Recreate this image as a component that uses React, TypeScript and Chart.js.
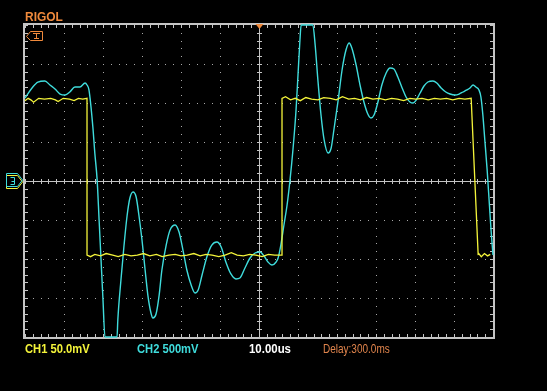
import React, { useEffect, useRef } from "react";
import { Chart, registerables } from "chart.js";

Chart.register(...registerables);

// Time axis: 10.00 us/div, 12 divisions, centre = 0 us
const timeMin = -60;
const timeMax = 60;

// CH1 (yellow), 50.0 mV/div
const ch1Time = [
  -60, -59.2, -58.5, -57.8, -56.5, -55, -53.4, -52.2, -51.5, -50.2, -48.6, -47.4, -46.3, -45.2, -44.1,
  -44.1, -43.2, -42.1, -40.6, -39.2, -37.5, -36.1, -34.4, -32.8, -31.2, -29.6, -28, -26.3, -24.8, -23.1,
  -21.5, -20, -18.4, -16.7, -15.1, -13.6, -12, -10.3, -8.7, -7.1, -5.6, -4, -2.4, -0.8, 0.8, 2.4, 4, 5.9,
  5.9, 6.8, 8.1, 9.3, 10.6, 12, 13.5, 15.1, 16.6, 18.3, 19.8, 21.4, 23, 24.5, 26, 27.6, 29.2, 30.8, 32.4,
  34, 35.5, 37.1, 38.7, 40.2, 41.8, 43.4, 45, 46.5, 48.1, 49.7, 51.3, 52.8, 54.4, 56.2,
  56.2, 57, 57.8, 58.6, 59.3, 60,
];
const ch1Volt = [
  103, 106, 104, 101, 106, 105, 106, 104, 102, 106, 105, 103, 106, 105, 106,
  -95, -97, -94, -96, -93, -95, -97, -94, -96, -95, -93, -96, -94, -97, -95,
  -94, -96, -95, -93, -96, -94, -95, -97, -95, -92, -95, -96, -94, -95, -97, -94, -95, -95,
  106, 108, 104, 106, 103, 107, 105, 104, 107, 106, 104, 108, 105, 106, 104, 107, 105, 106, 104,
  106, 105, 103, 106, 105, 106, 104, 106, 105, 106, 104, 106, 105, 106,
  -95, -92, -97, -93, -96, -94,
];

// CH2 (cyan), 500 mV/div (clipped at the screen edge, +-2000 mV)
const ch2Time = [
  -60, -58.2, -56.7, -54.9, -53.6, -52.3, -51, -49.7, -48.5, -47.2, -45.9, -44.6, -44.1, -43.6,
  -42.6, -42.1, -41.5, -41, -40.5, -40, -39.5, -36.4, -36.2, -35.4, -34.6, -33.8, -33.1, -32.3,
  -31.5, -30.8, -30, -29.2, -28.5, -27.7, -27.2, -26.4, -25.6, -24.9, -23.8, -22.8, -21.5, -20.5,
  -19.5, -18.5, -17.4, -16.4, -15.6, -14.6, -13.3, -12.1, -10.8, -9.7, -8.5, -7.2, -5.9, -4.9,
  -3.6, -2.3, -1, 0.3, 1.3, 2.3, 3.3, 4.4, 4.9, 5.6, 6.4, 7.2, 7.9, 8.7, 9.5, 10, 10.5, 10.8,
  13.8, 14.4, 15.1, 15.9, 16.7, 17.7, 18.5, 19.2, 20.3, 21.3, 22.3, 23.1, 23.8, 24.9, 25.9, 26.9,
  27.9, 28.7, 29.5, 30.5, 31.5, 32.6, 33.6, 34.6, 35.6, 36.7, 37.7, 38.7, 39.5, 40.3, 41.3, 42.3,
  43.3, 44.6, 45.6, 46.7, 47.9, 49, 50.3, 51.3, 52.3, 53.3, 54.1, 54.9, 55.6, 56.4, 56.9, 57.4,
  57.9, 58.5, 59, 59.5, 60,
];
const ch2Volt = [
  1064, 1192, 1269, 1282, 1231, 1179, 1115, 1103, 1141, 1205, 1205, 1256, 1231, 1167,
  692, 359, 13, -500, -1013, -1526, -2000, -2000, -1782, -1269, -821, -436, -218, -141,
  -205, -436, -756, -1141, -1462, -1692, -1756, -1705, -1462, -1141, -821, -628, -564, -654,
  -885, -1141, -1333, -1436, -1397, -1205, -962, -821, -782, -846, -1038, -1192, -1256, -1244,
  -1115, -987, -923, -910, -962, -1038, -1077, -1038, -987, -821, -564, -308, -13, 397, 910, 1359, 1808, 2000,
  2000, 1744, 1295, 846, 526, 359, 423, 654, 1038, 1423, 1679, 1769, 1705, 1487, 1231, 1013,
  859, 808, 846, 1013, 1231, 1385, 1449, 1436, 1333, 1192, 1077, 1013, 1000, 1038, 1128, 1218,
  1269, 1282, 1256, 1192, 1141, 1115, 1103, 1115, 1141, 1167, 1192, 1231, 1205, 1167, 1077, 846,
  526, 141, -244, -628, -949,
];

const ch1Label = "CH1 50.0mV";
const ch2Label = "CH2 500mV";
const timebaseLabel = "10.00us";
const delayLabel = "Delay:300.0ms";
const brandLabel = "RIGOL";

const YELLOW = "#f4f43a";
const CYAN = "#3fdcdc";
const ORANGE = "#f08a3c";
const GRID = "#a8a8a8";
const FRAME = "#c4c4c4";

const graticule = {
  id: "graticule",
  beforeDatasetsDraw(chart: any) {
    const { ctx, chartArea } = chart;
    const { left, top, right, bottom } = chartArea;
    const dx = (right - left) / 12;
    const dy = (bottom - top) / 8;
    const sub = dx / 5;
    ctx.save();
    ctx.fillStyle = GRID;
    for (let i = 1; i < 12; i++) {
      if (i === 6) continue;
      const x = Math.round(left + i * dx);
      for (let k = 0; k <= 40; k++) ctx.fillRect(x, Math.round(top + k * sub), 1, 1);
    }
    for (let j = 1; j < 8; j++) {
      if (j === 4) continue;
      const y = Math.round(top + j * dy);
      for (let k = 0; k <= 60; k++) ctx.fillRect(Math.round(left + k * sub), y, 1, 1);
    }
    const cx = Math.round(left + 6 * dx);
    const cy = Math.round(top + 4 * dy);
    ctx.fillStyle = FRAME;
    ctx.fillRect(cx, top, 1, bottom - top);
    ctx.fillRect(left, cy, right - left, 1);
    for (let k = 0; k <= 60; k++) {
      const x = Math.round(left + k * sub);
      ctx.fillRect(x, cy - 2, 1, 5);
      ctx.fillRect(x, top, 1, 3);
      ctx.fillRect(x, bottom - 3, 1, 3);
    }
    for (let k = 0; k <= 40; k++) {
      const y = Math.round(top + k * sub);
      ctx.fillRect(cx - 2, y, 5, 1);
      ctx.fillRect(left, y, 3, 1);
      ctx.fillRect(right - 3, y, 3, 1);
    }
    // frame
    ctx.fillRect(left - 2, top - 2, right - left + 4, 2);
    ctx.fillRect(left - 2, bottom, right - left + 4, 2);
    ctx.fillRect(left - 2, top - 2, 2, bottom - top + 4);
    ctx.fillRect(right, top - 2, 2, bottom - top + 4);
    ctx.restore();
  },
  afterDraw(chart: any) {
    const { ctx, chartArea } = chart;
    const { left, top, right, bottom } = chartArea;
    const cx = Math.round(left + 6 * ((right - left) / 12));
    const cy = Math.round(top + 4 * ((bottom - top) / 8));
    ctx.save();
    // trigger position marker
    ctx.fillStyle = ORANGE;
    ctx.beginPath();
    ctx.moveTo(cx - 3.5, top - 1);
    ctx.lineTo(cx + 4.5, top - 1);
    ctx.lineTo(cx + 0.5, top + 4);
    ctx.closePath();
    ctx.fill();
    // trigger level marker "T"
    ctx.strokeStyle = ORANGE;
    ctx.lineWidth = 1;
    ctx.beginPath();
    ctx.moveTo(left + 1.5, top + 11.5);
    ctx.lineTo(left + 5.5, top + 6.5);
    ctx.lineTo(left + 17.5, top + 6.5);
    ctx.lineTo(left + 17.5, top + 15.5);
    ctx.lineTo(left + 5.5, top + 15.5);
    ctx.closePath();
    ctx.stroke();
    ctx.beginPath();
    ctx.moveTo(left + 8, top + 8.5);
    ctx.lineTo(left + 15, top + 8.5);
    ctx.moveTo(left + 11.5, top + 8.5);
    ctx.lineTo(left + 11.5, top + 13.5);
    ctx.moveTo(left + 9, top + 13.5);
    ctx.lineTo(left + 14, top + 13.5);
    ctx.stroke();
    // channel ground markers
    const drawTag = (color: string, oy: number) => {
      ctx.strokeStyle = color;
      ctx.beginPath();
      ctx.moveTo(6.5, cy - 6.5 + oy);
      ctx.lineTo(17.5, cy - 6.5 + oy);
      ctx.lineTo(22.5, cy + oy);
      ctx.lineTo(17.5, cy + 6.5 + oy);
      ctx.lineTo(6.5, cy + 6.5 + oy);
      ctx.closePath();
      ctx.stroke();
    };
    drawTag(YELLOW, 1);
    drawTag(CYAN, -1);
    ctx.strokeStyle = CYAN;
    ctx.beginPath();
    ctx.moveTo(10.5, cy - 3.5);
    ctx.lineTo(14.5, cy - 3.5);
    ctx.lineTo(14.5, cy + 3.5);
    ctx.lineTo(10.5, cy + 3.5);
    ctx.moveTo(11.5, cy + 0.5);
    ctx.lineTo(14.5, cy + 0.5);
    ctx.stroke();
    ctx.restore();
  },
};

export default function App() {
  const canvasRef = useRef<HTMLCanvasElement | null>(null);

  useEffect(() => {
    document.body.style.margin = "0";
    document.body.style.background = "#000";
    const canvas = canvasRef.current;
    if (!canvas) return;
    const ch1 = ch1Time.map((t, i) => ({ x: t, y: ch1Volt[i] }));
    const ch2 = ch2Time.map((t, i) => ({ x: t, y: ch2Volt[i] }));
    const chart = new Chart(canvas, {
      type: "line",
      data: {
        datasets: [
          {
            label: ch2Label,
            data: ch2,
            yAxisID: "y2",
            borderColor: CYAN,
            borderWidth: 1.4,
            pointRadius: 0,
            cubicInterpolationMode: "monotone",
            clip: 3,
            order: 2,
          } as any,
          {
            label: ch1Label,
            data: ch1,
            yAxisID: "y1",
            borderColor: YELLOW,
            borderWidth: 1.3,
            pointRadius: 0,
            tension: 0,
            clip: 3,
            order: 1,
          } as any,
        ],
      },
      options: {
        animation: false,
        responsive: false,
        maintainAspectRatio: false,
        parsing: true,
        layout: { padding: { left: 25, right: 54, top: 25, bottom: 54 } },
        plugins: { legend: { display: false }, tooltip: { enabled: false }, title: { display: false } },
        scales: {
          x: { type: "linear", min: timeMin, max: timeMax, display: false },
          y1: { type: "linear", min: -200, max: 200, display: false },
          y2: { type: "linear", min: -2000, max: 2000, display: false },
        },
      },
      plugins: [graticule],
    });
    return () => chart.destroy();
  }, []);

  const textBase: React.CSSProperties = {
    position: "absolute",
    fontFamily: "'Liberation Sans', Arial, sans-serif",
    fontSize: "13px",
    lineHeight: "13px",
    whiteSpace: "nowrap",
    transformOrigin: "left top",
  };

  return (
    <div style={{ position: "absolute", left: 0, top: 0, width: 547, height: 391, background: "#000", overflow: "hidden" }}>
      <canvas ref={canvasRef} width={547} height={391} style={{ position: "absolute", left: 0, top: 0, width: 547, height: 391 }} />
      <span style={{ ...textBase, left: 25, top: 10, color: ORANGE, fontWeight: "bold", transform: "scaleX(0.92)" }}>{brandLabel}</span>
      <span style={{ ...textBase, left: 25, top: 342, color: YELLOW, fontWeight: "bold", transform: "scaleX(0.86)" }}>{ch1Label}</span>
      <span style={{ ...textBase, left: 137, top: 342, color: CYAN, fontWeight: "bold", transform: "scaleX(0.86)" }}>{ch2Label}</span>
      <span style={{ ...textBase, left: 249, top: 342, color: "#ffffff", fontWeight: "bold", transform: "scaleX(0.88)" }}>{timebaseLabel}</span>
      <span style={{ ...textBase, left: 323, top: 342, color: "#e0844c", transform: "scaleX(0.77)" }}>{delayLabel}</span>
    </div>
  );
}
